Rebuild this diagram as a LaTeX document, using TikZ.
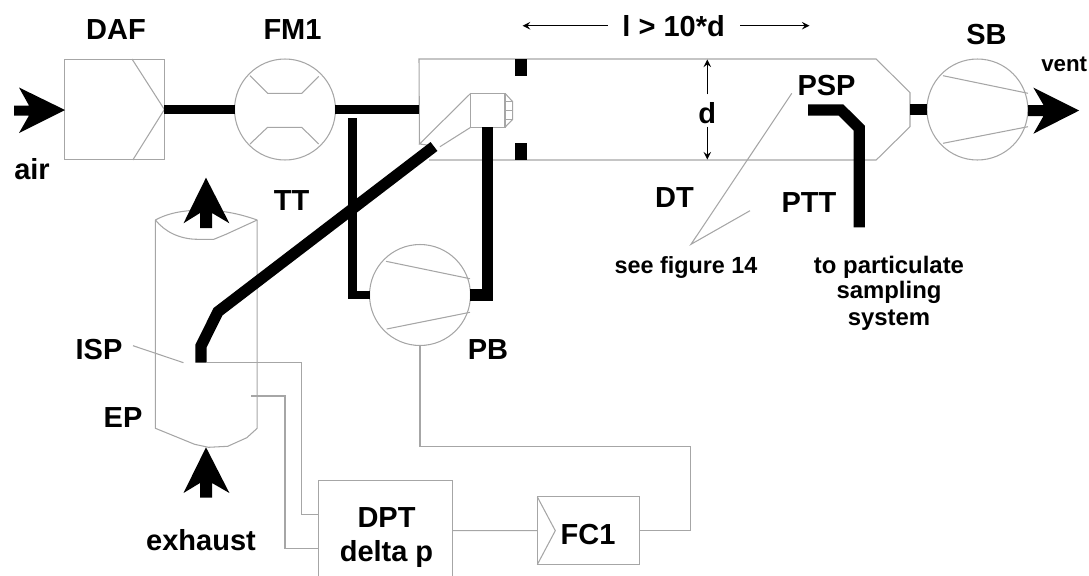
\documentclass[tikz,border=0pt]{standalone}
\usepackage{fontspec}
\setmainfont{Liberation Sans}
\tikzset{
  unit/.style={draw=black!35, line width=0.6pt, inner sep=0pt, outer sep=0pt},
  thin line/.style={draw=black!35, line width=0.6pt},
  pipe/.style={draw=black, line width=4.8pt},
  wide pipe/.style={draw=black, line width=6.4pt},
  dim/.style={draw=black, line width=0.9pt, >=stealth},
  lbl/.style={font=\fontsize{16.5}{18}\selectfont\bfseries, anchor=base, inner sep=0pt},
  small lbl/.style={font=\fontsize{13.3}{15.3}\selectfont\bfseries, anchor=base, inner sep=0pt},
  note lbl/.style={font=\fontsize{13.6}{15.3}\selectfont\bfseries, anchor=base, inner sep=0pt}
}
\begin{document}
\begin{tikzpicture}[x=0.02cm, y=-0.02cm]
\useasboundingbox (0,0) rectangle (1089,575);
\clip (0,0) rectangle (1089,575);

%--- Dilution air filter ---
\node[unit, minimum width=2cm, minimum height=2.01cm] (daf) at (114.4,109.5) {};
\draw[thin line] (132,59) -- (daf.east) -- (132.8,160);
\node[lbl] (daflabel) at (116,39.3) {DAF};
\node[lbl] (airlabel) at (32,179) {air};
\fill (14,105.5) -- (29,105.5) -- (19,87.5) -- (65,110) -- (19,133) -- (29,115.5) -- (14,115.5) -- cycle;

%--- Flow meter ---
\node[unit, circle, minimum size=2.02cm] (fm) at (285,109.5) {};
\draw[thin line] (250,75.7) -- (267.6,93.3) -- (301.7,93.3) -- (318.7,76.3);
\draw[thin line] (250,144) -- (267.6,127.3) -- (301.7,127.3) -- (318.7,144);
\node[lbl] (fmlabel) at (292.5,39.3) {FM1};

%--- Dilution tunnel ---
\coordinate (tunnelin) at (419,109.5);
\coordinate (conetip) at (419.5,144);
\coordinate (tunnelout) at (910,109.5);
\draw[thin line] (conetip) -- (419,59) -- (876.2,59) -- (910,92.7) -- (910,126.7) -- (876.2,160) -- (429,160);
\fill (515,59) rectangle (527,76);
\fill (515,143.3) rectangle (527,160);

%--- Probe nozzle ---
\node[unit, minimum width=0.686cm, minimum height=0.68cm] (nozzle) at (487.85,110.3) {};
\coordinate (coneend) at (440,146.7);
\draw[thin line] (nozzle.north west) -- (conetip) -- (427,145);
\draw[thin line] (nozzle.south west) -- (coneend);
\draw[thin line] (nozzle.north east) -- (512.7,101.7) -- (512.7,119.3) -- (nozzle.south east);
\draw[thin line] (505,101.7) -- (512.7,101.7);
\draw[thin line] (505,110.7) -- (512.7,110.7);
\draw[thin line] (505,119.3) -- (512.7,119.3);

%--- Pressure blower ---
\node[unit, circle, minimum size=2.02cm] (pb) at (420,295) {};
\draw[thin line] (386,261.3) -- (470,278.7);
\draw[thin line] (386.7,329) -- (470,312.3);
\node[lbl] (pblabel) at (488,359) {PB};

%--- Suction blower ---
\node[unit, circle, minimum size=2.02cm] (sb) at (977.4,109.5) {};
\draw[thin line] (943,75.7) -- (1028,93.3);
\draw[thin line] (943,143.3) -- (1028,126.7);
\node[lbl] (sblabel) at (986.5,44.3) {SB};
\node[font=\fontsize{12.7}{15}\selectfont\bfseries, anchor=base, inner sep=0pt] (ventlabel) at (1064.2,71.7) {vent};
\fill (1028,105) -- (1043.5,105) -- (1033.4,87.7) -- (1079.2,110.5) -- (1033.4,133.7) -- (1043.5,116) -- (1028,116) -- cycle;

%--- Exhaust pipe ---
\draw[thin line] (155.4,220) .. controls (170,212) and (187,210) .. (206,210) .. controls (226,211) and (240,214) .. (257.2,220);
\draw[thin line] (155.4,220) .. controls (165,232) and (180,239.3) .. (198,239.3) -- (213.8,239.3) -- (226,234.3) -- (257.2,220);
\draw[thin line] (155.4,220) -- (155.4,428.3) -- (194.6,444.3) -- (208.5,447.3) -- (227.7,446.3) -- (246.8,437.7) -- (257.2,428.3) -- (257.2,220);
\fill (200,228) -- (200,213) -- (183.5,223.3) -- (206,177.7) -- (229.4,223.3) -- (212,213) -- (212,228) -- cycle;
\fill (200,497.7) -- (200,483) -- (183.5,493) -- (206,447.3) -- (229.4,493) -- (212,483) -- (212,497.7) -- cycle;
\node[lbl] (eplabel) at (123,427.7) {EP};
\node[lbl] (exhaustlabel) at (201,550) {exhaust};

%--- Transfer tube ---
\coordinate (ispend) at (201,362.7);
\coordinate (ispbend) at (201,346);
\coordinate (ttbend) at (218,311.7);
\coordinate (ttend) at (434,146.5);
\draw[wide pipe] (ispend) -- (ispbend) -- (ttbend) -- (ttend);
\node[lbl] (ttlabel) at (291.6,210.7) {TT};

%--- Sampling probe leader ---
\node[lbl] (isplabel) at (99,359) {ISP};
\coordinate (ispleadera) at (133,345.7);
\coordinate (ispleaderb) at (183.5,362.7);
\draw[thin line] (ispleadera) -- (ispleaderb);

%--- Air lines ---
\coordinate (bleedend) at (352.5,118.3);
\draw[pipe] (daf.east) -- (fm.west);
\draw[pipe] (fm.east) -- (tunnelin);
\draw[pipe] (pb.west) -| (bleedend);
\draw[wide pipe] (pb.east) -| (nozzle.south);
\draw[wide pipe] (tunnelout) -- (sb.west);

%--- Particulate sampling probe ---
\coordinate (pspstart) at (808,110);
\coordinate (pspbenda) at (841,110);
\coordinate (pspbendb) at (859.2,128);
\coordinate (pttend) at (859.2,227.3);
\draw[wide pipe] (pspstart) -- (pspbenda) -- (pspbendb) -- (pttend);
\node[lbl] (psplabel) at (826.5,95) {PSP};
\node[lbl] (pttlabel) at (809,212.7) {PTT};
\node[lbl] (dtlabel) at (674.5,207.3) {DT};
\node[note lbl] (tolabel) at (889,273.3) {to particulate};
\node[note lbl] (samplinglabel) at (889,298.5) {sampling};
\node[note lbl] (systemlabel) at (889,325) {system};
\node[small lbl] (seelabel) at (686,273.3) {see figure 14};
\coordinate (seetip) at (691,244.3);
\coordinate (seea) at (791.8,93.3);
\coordinate (seeb) at (750,210.7);
\draw[thin line] (seea) -- (seetip) -- (seeb);

%--- Dimensions ---
\node[lbl] (lengthlabel) at (673.6,36) {l > 10*d};
\coordinate (lengthleft) at (522.6,25.7);
\coordinate (lengthlefti) at (607.6,25.7);
\coordinate (lengthrighti) at (740.3,25.7);
\coordinate (lengthright) at (809.5,25.7);
\draw[dim, ->] (lengthlefti) -- (lengthleft);
\draw[dim, ->] (lengthrighti) -- (lengthright);
\node[lbl] (dlabel) at (707.3,123.3) {d};
\coordinate (dtop) at (707.3,59.5);
\coordinate (dtopi) at (707.3,94.3);
\coordinate (dbot) at (707.3,159.5);
\coordinate (dboti) at (707.3,126.7);
\draw[dim, ->] (dtopi) -- (dtop);
\draw[dim, ->] (dboti) -- (dbot);

%--- Flow control ---
\node[unit, minimum width=2.68cm, minimum height=2cm, anchor=north west] (dpt) at (318.3,480.7) {};
\node[lbl] (dptlabel) at (386.5,527.3) {DPT};
\node[lbl] (deltalabel) at (386.5,561) {delta p};
\node[unit, minimum width=2.04cm, minimum height=1.354cm] (fc) at (588.3,530.7) {};
\draw[thin line] (fc.north west) -- (555.3,530.7) -- (fc.south west);
\node[lbl] (fclabel) at (588,544.3) {FC1};
\coordinate (ispport) at (206.8,362.7);
\coordinate (epport) at (251,396);
\coordinate (dptporta) at (318.3,514.3);
\coordinate (dptportb) at (318.3,548.3);
\draw[thin line] (ispport) -- (301.7,362.7) |- (dptporta);
\draw[thin line] (epport) -- (285,396) |- (dptportb);
\draw[thin line] (dpt.east) -- (fc.west);
\coordinate (fcturn) at (690.7,446.7);
\draw[thin line] (fc.east) -| (fcturn) -| (pb.south);

\end{tikzpicture}
\end{document}
